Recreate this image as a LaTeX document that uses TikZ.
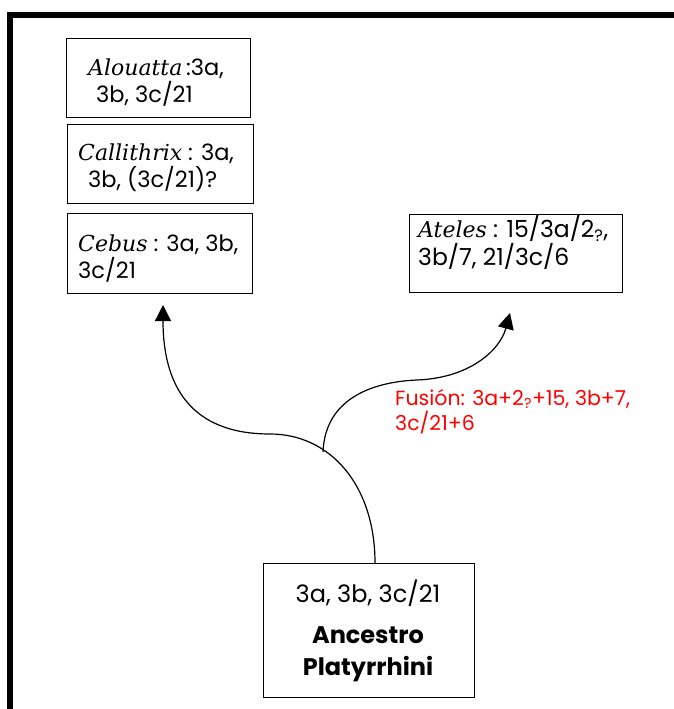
\documentclass[tikz,border=0pt]{standalone}
\usepackage{fontspec}
\setmainfont{Poppins}
\newfontfamily\genusfont{DejaVu Serif}
\usetikzlibrary{arrows.meta}
\begin{document}
\begin{tikzpicture}[x=1pt,y=-1pt,
  box/.style={draw, line width=1pt, inner sep=0pt, anchor=north west},
  txt/.style={anchor=base west, inner sep=0pt, align=left, font=\fontsize{22.5}{27}\selectfont},
  branch/.style={line width=1.2pt, -{Triangle[length=16pt,width=16pt]}},
  frame/.style={line width=6pt}]
\useasboundingbox (0,0) rectangle (674,709);
\clip (0,0) rectangle (674,709);
\newcommand{\gn}[1]{{\genusfont\itshape\fontsize{22}{27}\selectfont #1}}
% frame
\draw[frame] (9.5,730) -- (9.5,15) -- (700,15);
% boxes
\node[box, minimum width=184pt, minimum height=79pt] (alou) at (66,38) {};
\node[box, minimum width=186pt, minimum height=79pt] (calli) at (67,124) {};
\node[box, minimum width=185pt, minimum height=80pt] (cebus) at (67,213) {};
\node[box, minimum width=213pt, minimum height=78pt] (ateles) at (409,214) {};
\node[box, minimum width=211pt, minimum height=134pt] (anc) at (263,563) {};
% texts (anchored at the baseline of their last line)
\node[txt] (alout) at (88,102) {\gn{Alouatta}\,:3a,\\\hspace*{8pt}3b, 3c/21};
\node[txt] (callit) at (78,187) {\gn{Callithrix} : 3a,\\\hspace*{10pt}3b, (3c/21)?};
\node[txt] (cebust) at (78,278) {\gn{Cebus} : 3a, 3b,\\3c/21};
\node[txt, font=\fontsize{23.5}{25}\selectfont] (atelest) at (418,265) {\gn{Ateles} : 15/3a/2\textsubscript{?},\\3b/7, 21/3c/6};
\node[txt, text=red, font=\fontsize{20.5}{25}\selectfont] (fus) at (395,430) {Fusión: 3a+2\textsubscript{?}+15, 3b+7,\\3c/21+6};
\node[anchor=base, inner sep=0pt, font=\fontsize{24}{27}\selectfont] (anct1) at (368,602) {3a, 3b, 3c/21};
\node[anchor=base, inner sep=0pt, font=\fontsize{24}{27}\selectfont\bfseries] (anct2) at (368,643) {Ancestro};
\node[anchor=base, inner sep=0pt, font=\fontsize{24}{27}\selectfont\bfseries] (anct3) at (368,675) {Platyrrhini};
% connectors
\coordinate (tipL) at (163,305);
\coordinate (tipR) at (510,313);
\coordinate (br) at (323,452);
\draw[branch] (anc.north -| 375,0) .. controls (375,485) and (330,434) .. (270,434)
   .. controls (190,434) and (163,385) .. (tipL);
\draw[branch] (br) .. controls (325,400) and (370,382) .. (417,380)
   .. controls (470,378) and (500,350) .. (tipR);
\end{tikzpicture}
\end{document}
